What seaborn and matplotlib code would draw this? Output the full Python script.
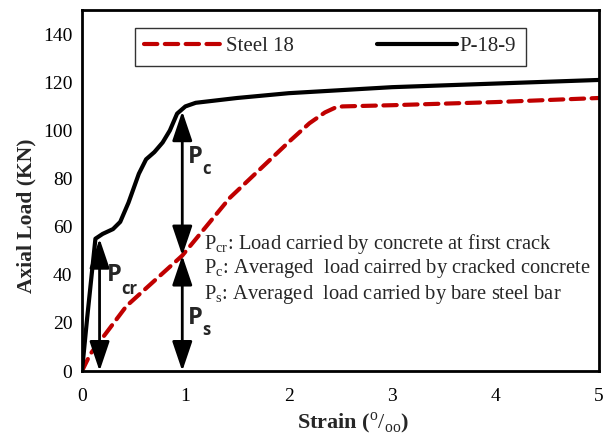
import matplotlib
matplotlib.use("Agg")
import matplotlib.pyplot as plt
import seaborn as sns
import pandas as pd

# Data
steel_strain = [0, 0.08, 0.43, 0.97, 1.43, 2.02, 2.2, 2.35, 2.45, 2.52, 3.0, 4.0, 5.0]
steel_load = [0, 7, 27, 48, 72, 96, 103, 107.5, 109.5, 110, 110.5, 111.8, 113.5]

p_strain = [0, 0.05, 0.13, 0.2, 0.3, 0.37, 0.45, 0.55, 0.62, 0.7, 0.78, 0.85, 0.92, 1.0, 1.1, 1.5, 2.0, 3.0, 4.0, 5.0]
p_load = [0, 22, 55, 57, 59, 62, 70, 82, 88, 91, 95, 100, 107, 110, 111.5, 113.5, 115.5, 118, 119.5, 121]

series_names = ["Steel 18", "P-18-9"]
x_ticks = [0, 1, 2, 3, 4, 5]
y_ticks = [0, 20, 40, 60, 80, 100, 120, 140]

# Arrow annotations (strain, load_from, load_to)
pcr_arrow = (0.17, 0, 55)
pc_arrow = (0.97, 48, 108)
ps_arrow = (0.97, 0, 48)

sns.set_style("white")
plt.rcParams['font.family'] = ['Liberation Serif', 'DejaVu Serif']
plt.rcParams['mathtext.fontset'] = 'custom'
plt.rcParams['mathtext.rm'] = 'Liberation Serif'
plt.rcParams['mathtext.bf'] = 'Liberation Serif:bold'

fig = plt.figure(figsize=(6.05, 4.43), dpi=100)
ax = fig.add_axes([0.1355, 0.1625, 0.8545, 0.8145])

df_s = pd.DataFrame({"strain": steel_strain, "load": steel_load})
df_p = pd.DataFrame({"strain": p_strain, "load": p_load})

sns.lineplot(data=df_s, x="strain", y="load", ax=ax, color="#C00000", lw=3,
             sort=False, label=series_names[0], dashes=False)
ax.lines[-1].set_dashes((3.2, 1.8))
ax.lines[-1].set_dash_capstyle('round')
sns.lineplot(data=df_p, x="strain", y="load", ax=ax, color="black", lw=3,
             sort=False, label=series_names[1])

ax.set_xlim(0, 5)
ax.set_ylim(0, 150)
ax.set_xticks(x_ticks)
ax.set_yticks(y_ticks)
ax.tick_params(axis='both', direction='in', length=5, width=1.5, labelsize=14,
               colors='black', pad=7)
ax.tick_params(axis='x', pad=12)
for s in ax.spines.values():
    s.set_visible(True)
    s.set_color('black')
    s.set_linewidth(2)

ax.set_xlabel(r'Strain ($^{\mathrm{o}}/_{\mathrm{oo}}$)', fontsize=16, fontweight='bold')
ax.set_ylabel('Axial Load (KN)', fontsize=15.5, fontweight='bold')
ax.xaxis.set_label_coords(0.525, -0.11)
ax.yaxis.set_label_coords(-0.088, 0.43)

leg = ax.legend(loc='upper center', bbox_to_anchor=(0.48, 0.952), ncol=2, frameon=True,
                fancybox=False, edgecolor='black', fontsize=15, handlelength=3.8,
                handletextpad=0.15, columnspacing=4.0, borderpad=0.45, borderaxespad=0)
leg.get_frame().set_linewidth(1.0)

def dbl_arrow(a):
    x, y0, y1 = a
    ax.annotate('', xy=(x, y1), xytext=(x, y0),
                arrowprops=dict(arrowstyle='<|-|>,head_length=0.65,head_width=0.22', color='black', lw=2,
                                mutation_scale=28, shrinkA=0, shrinkB=0))

dbl_arrow(pcr_arrow)
dbl_arrow(pc_arrow)
dbl_arrow(ps_arrow)

sans = ['Open Sans', 'DejaVu Sans']
ax.text(0.24, 40, 'P', fontsize=17, fontweight='bold', family=sans, va='center')
ax.text(0.38, 34, 'cr', fontsize=12, fontweight='bold', family=sans, va='center')
ax.text(1.02, 89, 'P', fontsize=17, fontweight='bold', family=sans, va='center')
ax.text(1.16, 84, 'c', fontsize=12, fontweight='bold', family=sans, va='center')
ax.text(1.02, 22, 'P', fontsize=17, fontweight='bold', family=sans, va='center')
ax.text(1.16, 17, 's', fontsize=12, fontweight='bold', family=sans, va='center')

ax.text(1.18, 53, r'P$_{\mathrm{cr}}$: Load carried by concrete at first crack', fontsize=14.8, va='center')
ax.text(1.18, 42.5, r'P$_{\mathrm{c}}$: Averaged  load cairred by cracked concrete', fontsize=14.8, va='center')
ax.text(1.18, 32, r'P$_{\mathrm{s}}$: Averaged  load carried by bare steel bar', fontsize=14.8, va='center')

fig.savefig('out.png', dpi=100)
